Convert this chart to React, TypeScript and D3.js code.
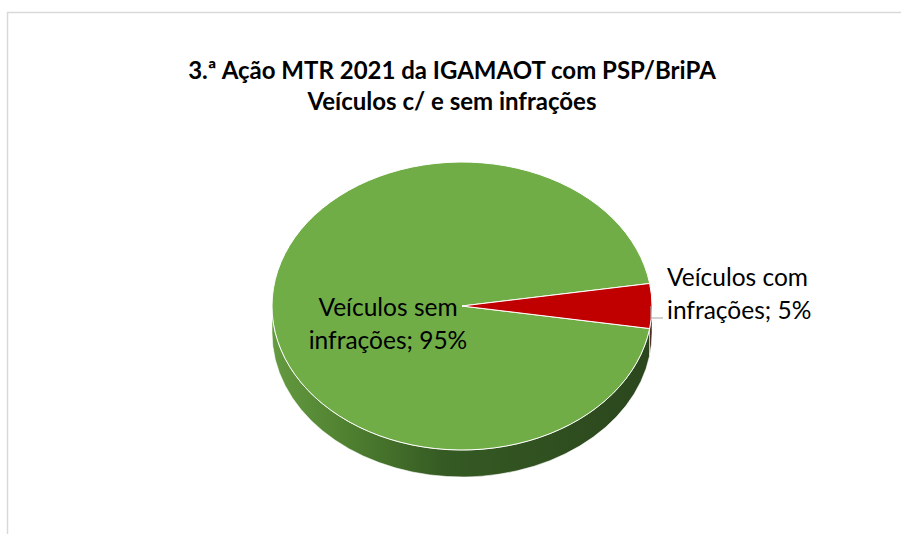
import * as d3 from "d3";

const categories = ["Veículos sem infrações", "Veículos com infrações"];
const values = [95, 5];
const colors = ["#70ad47", "#c00000"];
const labelLines = [
  ["Veículos sem", "infrações; 95%"],
  ["Veículos com", "infrações; 5%"],
];
const titleLines = ["3.ª Ação MTR 2021 da IGAMAOT com PSP/BriPA", "Veículos c/ e sem infrações"];

const width = 901;
const height = 534;
const cx = 462;
const cy = 306;
const rx = 190;
const ry = 144;
const depth = 27;
const font = "Lato, 'Open Sans', sans-serif";

type Slice = d3.PieArcDatum<number>;

function pt(a: number, dy = 0): [number, number] {
  return [cx + rx * Math.sin(a), cy - ry * Math.cos(a) + dy];
}

function sidePath(a0: number, a1: number) {
  const p0 = pt(a0);
  const p1 = pt(a1);
  const q1 = pt(a1, depth);
  const q0 = pt(a0, depth);
  const large = a1 - a0 > Math.PI ? 1 : 0;
  return `M${p0}A${rx},${ry} 0 ${large} 1 ${p1}L${q1}A${rx},${ry} 0 ${large} 0 ${q0}Z`;
}

export default function App() {
  const start = (99 * Math.PI) / 180;
  const pie = d3.pie<number>().sort(null).startAngle(start).endAngle(start + 2 * Math.PI);
  const arcs: Slice[] = pie(values);
  const arc = d3.arc<Slice>().innerRadius(0).outerRadius(rx);

  // visible front wall: angles between PI/2 and 3PI/2 (mod 2PI)
  const sides: { i: number; a0: number; a1: number }[] = [];
  arcs.forEach((d, i) => {
    for (const off of [0, 2 * Math.PI, -2 * Math.PI]) {
      const a0 = Math.max(d.startAngle + off, Math.PI / 2);
      const a1 = Math.min(d.endAngle + off, (3 * Math.PI) / 2);
      if (a1 > a0) sides.push({ i, a0, a1 });
    }
  });

  return (
    <svg width={width} height={height} style={{ position: "absolute", left: 0, top: 0 }}>
      <defs>
        <linearGradient id="sideGreen" gradientUnits="userSpaceOnUse" x1={cx - rx} x2={cx + rx} y1={0} y2={0}>
          <stop offset="0" stopColor="#649a40" />
          <stop offset="0.2" stopColor="#4f8030" />
          <stop offset="0.45" stopColor="#355a23" />
          <stop offset="1" stopColor="#2b461d" />
        </linearGradient>
        <linearGradient id="sideRed" gradientUnits="userSpaceOnUse" x1={cx - rx} x2={cx + rx} y1={0} y2={0}>
          <stop offset="0" stopColor="#700000" />
          <stop offset="1" stopColor="#3a1a10" />
        </linearGradient>
      </defs>
      <rect width={width} height={height} fill="#fff" />
      <rect x={7.5} y={12.5} width={width} height={height} fill="none" stroke="#d9d9d9" strokeWidth={1.5} />

      <g fontFamily={font} fontWeight="bold" fontSize={24} textAnchor="middle" fill="#000">
        {titleLines.map((t, i) => (
          <text key={i} x={452} y={79 + i * 31}>
            {t}
          </text>
        ))}
      </g>

      <g>
        {sides.map((s, k) => (
          <path
            key={k}
            d={sidePath(s.a0, s.a1)}
            fill={s.i === 0 ? "url(#sideGreen)" : "url(#sideRed)"}
            stroke="#ffffff"
            strokeWidth={0.6}
          />
        ))}
      </g>

      <g transform={`translate(${cx},${cy}) scale(1,${ry / rx})`}>
        {arcs.map((d, i) => (
          <path
            key={categories[i]}
            d={arc(d) ?? ""}
            fill={colors[i]}
            stroke="#ffffff"
            strokeWidth={1}
            vectorEffect="non-scaling-stroke"
          />
        ))}
      </g>

      <path d="M651,306V318H663" fill="none" stroke="#a6a6a6" strokeWidth={1.2} />

      <g fontFamily={font} fontSize={24.5} fill="#000">
        <text x={388} y={316} textAnchor="middle">
          <tspan x={388}>{labelLines[0][0]}</tspan>
          <tspan x={388} dy={33}>{labelLines[0][1]}</tspan>
        </text>
        <text x={667} y={286}>
          <tspan x={667}>{labelLines[1][0]}</tspan>
          <tspan x={667} dy={33}>{labelLines[1][1]}</tspan>
        </text>
      </g>
    </svg>
  );
}
